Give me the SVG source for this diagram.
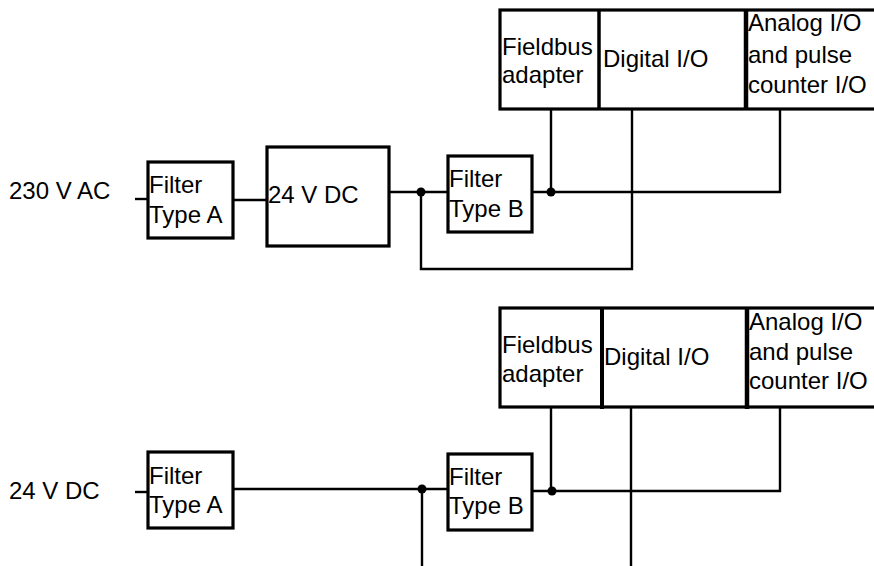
<svg xmlns="http://www.w3.org/2000/svg" width="874" height="566" viewBox="0 0 874 566">
<style>
.box{fill:#fff;stroke:#000;stroke-width:3.2}
.div{stroke:#000;stroke-width:3.5}
.ln{fill:none;stroke:#000;stroke-width:2.4}
text{font-family:"Liberation Sans",Arial,Helvetica,sans-serif;font-size:24px;fill:#000}
</style>
<rect width="874" height="566" fill="#fff"/>
<g id="connectors">
<!-- top -->
<path class="ln" d="M135 199H148"/>
<path class="ln" d="M233 200H267"/>
<path class="ln" d="M389 192H448"/>
<path class="ln" d="M421 192V269H632V109"/>
<path class="ln" d="M532 192H780V109"/>
<path class="ln" d="M551 109V192"/>
<circle cx="421" cy="192" r="4.5"/>
<circle cx="551" cy="192" r="4.5"/>
<!-- bottom -->
<path class="ln" d="M135 492H148"/>
<path class="ln" d="M233 489H448"/>
<path class="ln" d="M422 489V566"/>
<path class="ln" d="M532 491H780V407"/>
<path class="ln" d="M551 407V491"/>
<path class="ln" d="M631 407V566"/>
<circle cx="422" cy="489" r="4.5"/>
<circle cx="552" cy="491" r="4.5"/>
</g>
<g id="label-230vac"><text x="9" y="199">230 V AC</text></g>
<g id="filterA-top">
<rect class="box" x="148" y="162" width="85" height="76"/>
<text x="149" y="193">Filter</text><text x="149" y="223">Type A</text>
</g>
<g id="psu-24vdc">
<rect class="box" x="267" y="147" width="122" height="99"/>
<text x="268" y="203">24 V DC</text>
</g>
<g id="filterB-top">
<rect class="box" x="448" y="156" width="84" height="76"/>
<text x="449" y="187">Filter</text><text x="449" y="217">Type B</text>
</g>
<g id="io-top">
<rect class="box" x="500" y="10" width="400" height="99"/>
<line class="div" x1="599" y1="10" x2="599" y2="109"/>
<line class="div" x1="746" y1="10" x2="746" y2="109" style="stroke-width:4.5"/>
<text x="502" y="55">Fieldbus</text><text x="502" y="83">adapter</text>
<text x="603" y="67">Digital I/O</text>
<text x="748" y="31">Analog I/O</text><text x="748" y="63">and pulse</text><text x="748" y="93">counter I/O</text>
</g>
<g id="label-24vdc"><text x="9" y="499">24 V DC</text></g>
<g id="filterA-bottom">
<rect class="box" x="148" y="452" width="85" height="76"/>
<text x="149" y="484">Filter</text><text x="149" y="513">Type A</text>
</g>
<g id="filterB-bottom">
<rect class="box" x="448" y="454" width="84" height="76"/>
<text x="449" y="485">Filter</text><text x="449" y="514">Type B</text>
</g>
<g id="io-bottom">
<rect class="box" x="500" y="308" width="400" height="99"/>
<line class="div" x1="602" y1="308" x2="602" y2="409" style="stroke-width:4"/>
<line class="div" x1="747" y1="308" x2="747" y2="409" style="stroke-width:4.5"/>
<text x="502" y="353">Fieldbus</text><text x="502" y="382">adapter</text>
<text x="604" y="365">Digital I/O</text>
<text x="749" y="330">Analog I/O</text><text x="749" y="360">and pulse</text><text x="749" y="389">counter I/O</text>
</g>
</svg>
